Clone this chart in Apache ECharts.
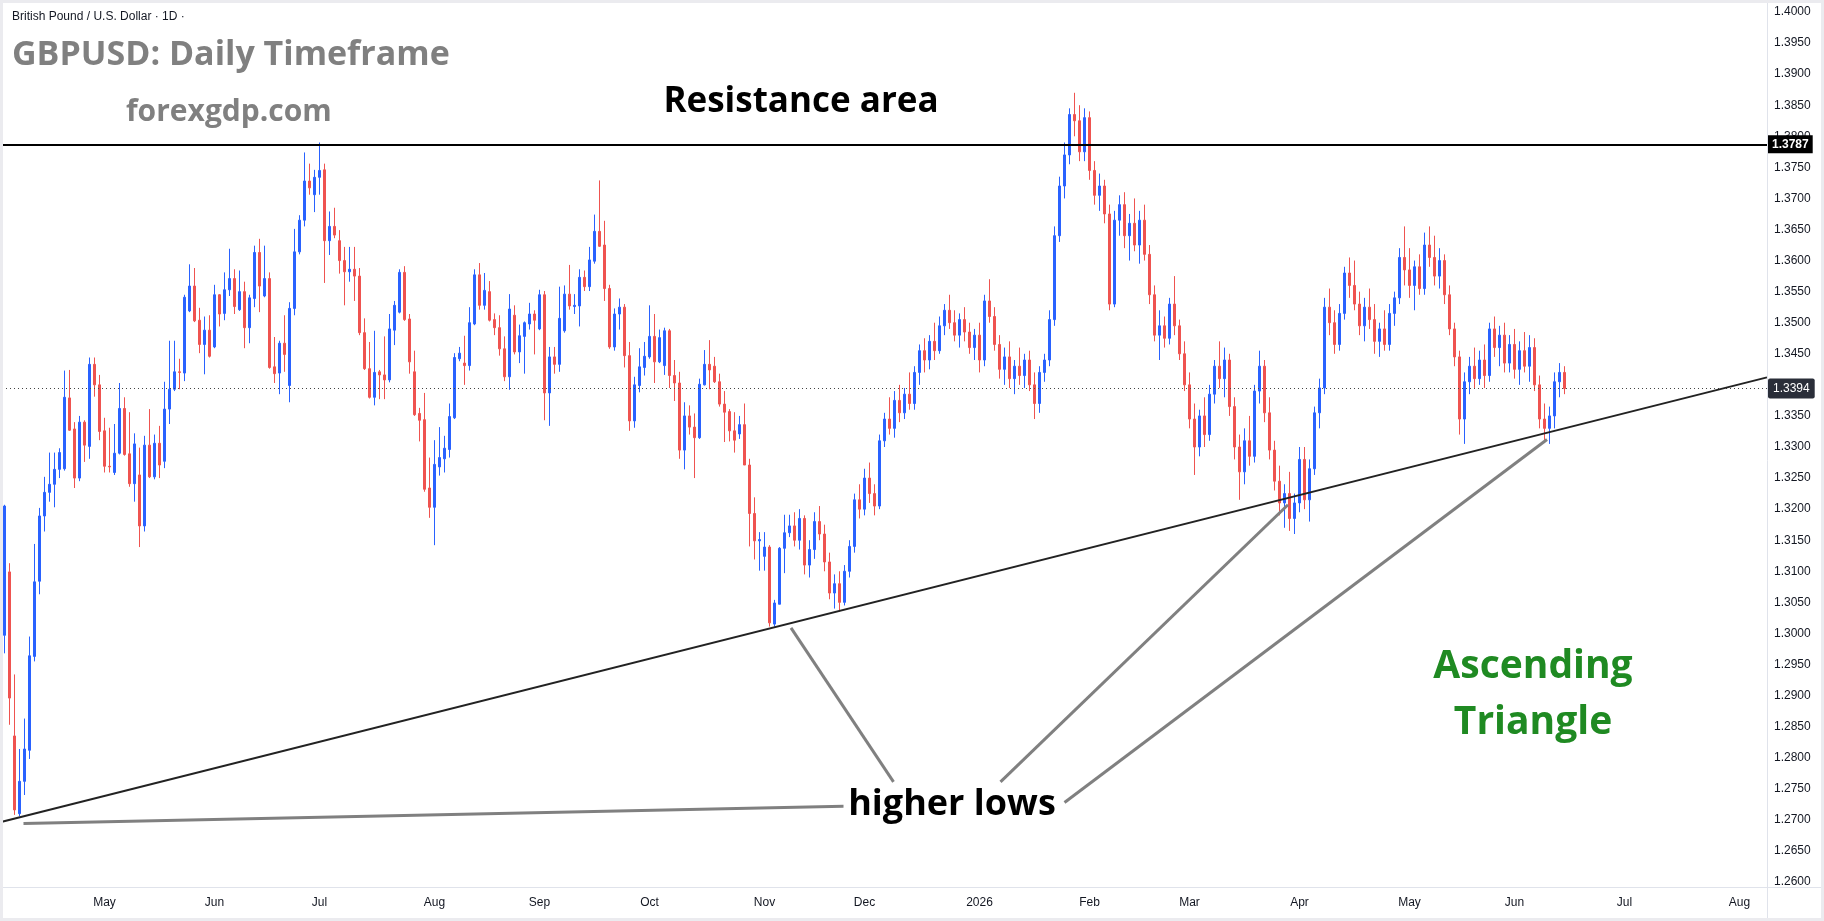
<!DOCTYPE html>
<html>
<head>
<meta charset="utf-8">
<title>GBPUSD Daily</title>
<script src="https://cdn.jsdelivr.net/npm/echarts@6/dist/echarts.min.js"></script>
<style>
  html, body { margin: 0; padding: 0; background: #ffffff; }
  #chart { width: 1824px; height: 921px; }
</style>
</head>
<body>
<div id="chart"></div>
<script>
// daily bars, one row per session: [open, high, low, close]
var apr25 = [
  [1.2997, 1.3207, 1.2968, 1.3205], [1.3099, 1.3113, 1.2853, 1.2896], [1.2835, 1.2934, 1.2708, 1.2716],
  [1.2710, 1.2814, 1.2706, 1.2762], [1.2762, 1.2863, 1.2740, 1.2814], [1.2812, 1.2995, 1.2798, 1.2964],
  [1.2963, 1.3144, 1.2955, 1.3083], [1.3084, 1.3202, 1.3063, 1.3189], [1.3189, 1.3252, 1.3164, 1.3227],
  [1.3227, 1.3291, 1.3212, 1.3240], [1.3240, 1.3291, 1.3203, 1.3264], [1.3264, 1.3298, 1.3250, 1.3291],
  [1.3265, 1.3423, 1.3262, 1.3380], [1.3379, 1.3424, 1.3326, 1.3327], [1.3329, 1.3340, 1.3234, 1.3250],
  [1.3250, 1.3350, 1.3245, 1.3340], [1.3340, 1.3343, 1.3276, 1.3303], [1.3301, 1.3444, 1.3281, 1.3433],
  [1.3433, 1.3444, 1.3381, 1.3400], [1.3400, 1.3416, 1.3311, 1.3325]
];
var may25 = [
  [1.3326, 1.3347, 1.3259, 1.3269], [1.3269, 1.3331, 1.3259, 1.3268], [1.3259, 1.3337, 1.3255, 1.3290],
  [1.3290, 1.3403, 1.3288, 1.3362], [1.3362, 1.3380, 1.3286, 1.3288], [1.3289, 1.3356, 1.3236, 1.3241],
  [1.3241, 1.3322, 1.3212, 1.3305], [1.3255, 1.3299, 1.3139, 1.3173], [1.3173, 1.3318, 1.3164, 1.3303],
  [1.3303, 1.3361, 1.3250, 1.3252], [1.3252, 1.3320, 1.3248, 1.3306], [1.3306, 1.3334, 1.3250, 1.3271],
  [1.3277, 1.3405, 1.3266, 1.3361], [1.3361, 1.3471, 1.3337, 1.3393], [1.3393, 1.3471, 1.3390, 1.3421],
  [1.3421, 1.3442, 1.3393, 1.3420], [1.3419, 1.3545, 1.3406, 1.3541], [1.3519, 1.3594, 1.3517, 1.3559],
  [1.3559, 1.3588, 1.3501, 1.3503], [1.3504, 1.3524, 1.3451, 1.3465], [1.3465, 1.3510, 1.3417, 1.3488],
  [1.3488, 1.3512, 1.3444, 1.3446]
];
var jun25 = [
  [1.3461, 1.3561, 1.3459, 1.3545], [1.3545, 1.3546, 1.3494, 1.3514], [1.3515, 1.3581, 1.3504, 1.3553],
  [1.3553, 1.3619, 1.3543, 1.3571], [1.3571, 1.3586, 1.3514, 1.3526], [1.3521, 1.3584, 1.3519, 1.3550],
  [1.3550, 1.3566, 1.3459, 1.3492], [1.3492, 1.3545, 1.3467, 1.3540], [1.3539, 1.3624, 1.3525, 1.3613],
  [1.3613, 1.3635, 1.3517, 1.3559], [1.3543, 1.3624, 1.3541, 1.3571], [1.3571, 1.3581, 1.3426, 1.3428],
  [1.3429, 1.3477, 1.3403, 1.3418], [1.3419, 1.3471, 1.3385, 1.3467], [1.3467, 1.3512, 1.3421, 1.3449],
  [1.3399, 1.3533, 1.3372, 1.3523], [1.3523, 1.3651, 1.3512, 1.3614], [1.3614, 1.3673, 1.3610, 1.3665],
  [1.3665, 1.3774, 1.3655, 1.3728], [1.3728, 1.3756, 1.3706, 1.3717], [1.3706, 1.3746, 1.3678, 1.3734]
];
var jul25 = [
  [1.3734, 1.3790, 1.3706, 1.3745], [1.3746, 1.3756, 1.3564, 1.3632], [1.3632, 1.3679, 1.3609, 1.3655],
  [1.3655, 1.3685, 1.3636, 1.3641], [1.3632, 1.3649, 1.3579, 1.3600], [1.3600, 1.3622, 1.3528, 1.3582],
  [1.3582, 1.3622, 1.3566, 1.3586], [1.3586, 1.3622, 1.3535, 1.3575], [1.3575, 1.3588, 1.3480, 1.3484],
  [1.3484, 1.3507, 1.3424, 1.3426], [1.3426, 1.3469, 1.3378, 1.3380], [1.3380, 1.3487, 1.3367, 1.3420],
  [1.3421, 1.3424, 1.3377, 1.3416], [1.3416, 1.3478, 1.3377, 1.3408], [1.3408, 1.3514, 1.3404, 1.3490],
  [1.3488, 1.3535, 1.3464, 1.3528], [1.3517, 1.3586, 1.3515, 1.3581], [1.3581, 1.3591, 1.3503, 1.3505],
  [1.3506, 1.3514, 1.3418, 1.3437], [1.3421, 1.3455, 1.3350, 1.3352], [1.3354, 1.3363, 1.3309, 1.3343],
  [1.3344, 1.3387, 1.3228, 1.3232], [1.3234, 1.3283, 1.3186, 1.3203]
];
var aug25 = [
  [1.3203, 1.3311, 1.3142, 1.3272], [1.3268, 1.3332, 1.3254, 1.3283], [1.3281, 1.3318, 1.3259, 1.3298],
  [1.3296, 1.3370, 1.3283, 1.3349], [1.3347, 1.3451, 1.3345, 1.3444], [1.3442, 1.3461, 1.3438, 1.3451],
  [1.3435, 1.3479, 1.3400, 1.3431], [1.3431, 1.3525, 1.3423, 1.3500], [1.3498, 1.3586, 1.3496, 1.3577],
  [1.3577, 1.3596, 1.3521, 1.3528], [1.3528, 1.3580, 1.3521, 1.3552], [1.3550, 1.3567, 1.3502, 1.3504],
  [1.3505, 1.3515, 1.3480, 1.3492], [1.3492, 1.3512, 1.3447, 1.3458], [1.3458, 1.3478, 1.3406, 1.3413],
  [1.3413, 1.3546, 1.3392, 1.3522], [1.3512, 1.3528, 1.3449, 1.3453], [1.3453, 1.3497, 1.3435, 1.3479],
  [1.3478, 1.3502, 1.3418, 1.3500], [1.3498, 1.3532, 1.3489, 1.3514], [1.3514, 1.3520, 1.3449, 1.3504]
];
var sep25 = [
  [1.3490, 1.3553, 1.3488, 1.3545], [1.3545, 1.3551, 1.3343, 1.3387], [1.3387, 1.3461, 1.3334, 1.3445],
  [1.3445, 1.3461, 1.3418, 1.3433], [1.3433, 1.3558, 1.3421, 1.3507], [1.3487, 1.3560, 1.3484, 1.3546],
  [1.3546, 1.3593, 1.3521, 1.3527], [1.3526, 1.3546, 1.3514, 1.3528], [1.3527, 1.3586, 1.3494, 1.3573],
  [1.3573, 1.3584, 1.3551, 1.3558], [1.3558, 1.3622, 1.3551, 1.3601], [1.3599, 1.3674, 1.3595, 1.3647],
  [1.3647, 1.3729, 1.3622, 1.3623], [1.3625, 1.3664, 1.3535, 1.3555], [1.3555, 1.3561, 1.3458, 1.3461],
  [1.3461, 1.3523, 1.3455, 1.3514], [1.3514, 1.3539, 1.3489, 1.3525], [1.3525, 1.3530, 1.3428, 1.3447],
  [1.3447, 1.3469, 1.3326, 1.3342], [1.3342, 1.3413, 1.3331, 1.3400], [1.3399, 1.3459, 1.3388, 1.3429],
  [1.3428, 1.3469, 1.3415, 1.3446]
];
var oct25 = [
  [1.3445, 1.3528, 1.3442, 1.3478], [1.3478, 1.3514, 1.3403, 1.3437], [1.3437, 1.3489, 1.3435, 1.3476],
  [1.3431, 1.3492, 1.3416, 1.3487], [1.3487, 1.3490, 1.3395, 1.3415], [1.3415, 1.3440, 1.3374, 1.3403],
  [1.3403, 1.3421, 1.3281, 1.3295], [1.3295, 1.3372, 1.3264, 1.3350], [1.3350, 1.3367, 1.3320, 1.3332],
  [1.3332, 1.3354, 1.3250, 1.3315], [1.3315, 1.3410, 1.3313, 1.3401], [1.3400, 1.3456, 1.3399, 1.3433],
  [1.3433, 1.3472, 1.3393, 1.3424], [1.3430, 1.3445, 1.3403, 1.3405], [1.3405, 1.3418, 1.3365, 1.3369],
  [1.3369, 1.3390, 1.3308, 1.3356], [1.3357, 1.3361, 1.3309, 1.3326], [1.3326, 1.3356, 1.3291, 1.3311],
  [1.3321, 1.3350, 1.3313, 1.3336], [1.3336, 1.3370, 1.3271, 1.3271], [1.3271, 1.3281, 1.3140, 1.3193],
  [1.3193, 1.3219, 1.3119, 1.3149], [1.3149, 1.3163, 1.3101, 1.3151]
];
var nov25 = [
  [1.3124, 1.3163, 1.3101, 1.3139], [1.3139, 1.3142, 1.3011, 1.3017], [1.3015, 1.3054, 1.3011, 1.3049],
  [1.3047, 1.3139, 1.3047, 1.3137], [1.3137, 1.3191, 1.3097, 1.3162], [1.3162, 1.3191, 1.3155, 1.3173],
  [1.3173, 1.3195, 1.3140, 1.3150], [1.3150, 1.3200, 1.3135, 1.3185], [1.3185, 1.3190, 1.3095, 1.3110],
  [1.3110, 1.3150, 1.3090, 1.3135], [1.3135, 1.3195, 1.3120, 1.3180], [1.3180, 1.3205, 1.3150, 1.3160],
  [1.3160, 1.3175, 1.3100, 1.3115], [1.3115, 1.3130, 1.3055, 1.3065], [1.3065, 1.3095, 1.3040, 1.3080],
  [1.3080, 1.3100, 1.3035, 1.3050], [1.3050, 1.3110, 1.3045, 1.3100], [1.3100, 1.3150, 1.3090, 1.3140],
  [1.3140, 1.3225, 1.3130, 1.3215], [1.3215, 1.3240, 1.3185, 1.3200]
];
var dec25 = [
  [1.3200, 1.3265, 1.3190, 1.3250], [1.3250, 1.3275, 1.3210, 1.3225], [1.3225, 1.3240, 1.3190, 1.3205],
  [1.3205, 1.3320, 1.3200, 1.3310], [1.3310, 1.3355, 1.3300, 1.3345], [1.3345, 1.3380, 1.3320, 1.3330],
  [1.3330, 1.3390, 1.3315, 1.3375], [1.3375, 1.3400, 1.3340, 1.3355], [1.3355, 1.3395, 1.3345, 1.3385],
  [1.3385, 1.3420, 1.3360, 1.3370], [1.3370, 1.3430, 1.3360, 1.3420], [1.3420, 1.3465, 1.3400, 1.3455],
  [1.3455, 1.3475, 1.3420, 1.3440], [1.3440, 1.3480, 1.3425, 1.3470], [1.3470, 1.3500, 1.3440, 1.3455],
  [1.3455, 1.3510, 1.3450, 1.3495], [1.3495, 1.3530, 1.3480, 1.3520], [1.3520, 1.3545, 1.3490, 1.3500],
  [1.3500, 1.3520, 1.3470, 1.3480], [1.3480, 1.3515, 1.3460, 1.3505], [1.3505, 1.3525, 1.3470, 1.3485],
  [1.3485, 1.3500, 1.3450, 1.3460], [1.3460, 1.3490, 1.3440, 1.3480]
];
var jan26 = [
  [1.3480, 1.3500, 1.3420, 1.3440], [1.3440, 1.3545, 1.3430, 1.3535], [1.3535, 1.3570, 1.3500, 1.3510],
  [1.3510, 1.3525, 1.3455, 1.3465], [1.3465, 1.3480, 1.3410, 1.3425], [1.3425, 1.3460, 1.3400, 1.3445],
  [1.3445, 1.3470, 1.3395, 1.3410], [1.3410, 1.3440, 1.3385, 1.3430], [1.3430, 1.3460, 1.3400, 1.3415],
  [1.3415, 1.3450, 1.3395, 1.3440], [1.3440, 1.3455, 1.3390, 1.3400], [1.3400, 1.3420, 1.3345, 1.3370],
  [1.3370, 1.3430, 1.3355, 1.3420], [1.3420, 1.3450, 1.3405, 1.3440], [1.3440, 1.3520, 1.3430, 1.3505],
  [1.3505, 1.3655, 1.3495, 1.3640], [1.3640, 1.3735, 1.3630, 1.3720], [1.3720, 1.3790, 1.3700, 1.3770],
  [1.3770, 1.3845, 1.3755, 1.3835], [1.3835, 1.3870, 1.3800, 1.3825], [1.3825, 1.3850, 1.3760, 1.3775],
  [1.3775, 1.3845, 1.3760, 1.3830]
];
var feb26 = [
  [1.3830, 1.3840, 1.3730, 1.3745], [1.3745, 1.3760, 1.3690, 1.3705], [1.3705, 1.3740, 1.3680, 1.3720],
  [1.3720, 1.3730, 1.3660, 1.3675], [1.3675, 1.3690, 1.3520, 1.3530], [1.3530, 1.3680, 1.3525, 1.3665],
  [1.3665, 1.3705, 1.3640, 1.3690], [1.3690, 1.3710, 1.3620, 1.3640], [1.3640, 1.3675, 1.3600, 1.3660],
  [1.3660, 1.3700, 1.3615, 1.3625], [1.3625, 1.3680, 1.3595, 1.3665], [1.3665, 1.3690, 1.3600, 1.3610],
  [1.3610, 1.3625, 1.3530, 1.3545], [1.3545, 1.3560, 1.3470, 1.3480], [1.3480, 1.3520, 1.3440, 1.3495],
  [1.3495, 1.3510, 1.3460, 1.3475], [1.3475, 1.3540, 1.3465, 1.3530], [1.3530, 1.3575, 1.3480, 1.3495],
  [1.3495, 1.3505, 1.3440, 1.3450], [1.3450, 1.3470, 1.3390, 1.3400]
];
var mar26 = [
  [1.3400, 1.3420, 1.3330, 1.3345], [1.3345, 1.3370, 1.3255, 1.3300], [1.3300, 1.3360, 1.3285, 1.3350],
  [1.3350, 1.3380, 1.3300, 1.3320], [1.3320, 1.3400, 1.3310, 1.3385], [1.3385, 1.3440, 1.3370, 1.3430],
  [1.3430, 1.3470, 1.3395, 1.3410], [1.3410, 1.3460, 1.3380, 1.3440], [1.3440, 1.3450, 1.3350, 1.3365],
  [1.3365, 1.3380, 1.3280, 1.3300], [1.3300, 1.3320, 1.3215, 1.3260], [1.3260, 1.3330, 1.3240, 1.3310],
  [1.3310, 1.3350, 1.3270, 1.3285], [1.3285, 1.3400, 1.3275, 1.3390], [1.3390, 1.3455, 1.3370, 1.3430],
  [1.3430, 1.3440, 1.3340, 1.3355], [1.3355, 1.3380, 1.3280, 1.3295], [1.3295, 1.3310, 1.3230, 1.3245],
  [1.3245, 1.3270, 1.3190, 1.3210], [1.3210, 1.3240, 1.3170, 1.3225], [1.3225, 1.3260, 1.3165, 1.3185],
  [1.3185, 1.3225, 1.3160, 1.3210]
];
var apr26 = [
  [1.3210, 1.3300, 1.3195, 1.3280], [1.3280, 1.3300, 1.3200, 1.3215], [1.3215, 1.3280, 1.3180, 1.3265],
  [1.3265, 1.3365, 1.3255, 1.3355], [1.3355, 1.3410, 1.3330, 1.3395], [1.3395, 1.3540, 1.3385, 1.3525],
  [1.3525, 1.3555, 1.3480, 1.3500], [1.3500, 1.3520, 1.3450, 1.3465], [1.3465, 1.3530, 1.3455, 1.3515],
  [1.3515, 1.3590, 1.3505, 1.3580], [1.3580, 1.3605, 1.3540, 1.3560], [1.3560, 1.3600, 1.3520, 1.3530],
  [1.3530, 1.3550, 1.3480, 1.3495], [1.3495, 1.3540, 1.3470, 1.3525], [1.3525, 1.3555, 1.3490, 1.3505],
  [1.3505, 1.3530, 1.3450, 1.3470], [1.3470, 1.3500, 1.3445, 1.3490], [1.3490, 1.3520, 1.3455, 1.3465],
  [1.3465, 1.3530, 1.3455, 1.3515], [1.3515, 1.3550, 1.3495, 1.3540], [1.3540, 1.3620, 1.3530, 1.3605],
  [1.3605, 1.3655, 1.3560, 1.3585]
];
var may26 = [
  [1.3585, 1.3620, 1.3540, 1.3560], [1.3560, 1.3600, 1.3520, 1.3590], [1.3590, 1.3610, 1.3545, 1.3555],
  [1.3555, 1.3645, 1.3545, 1.3625], [1.3625, 1.3655, 1.3590, 1.3605], [1.3605, 1.3640, 1.3560, 1.3575],
  [1.3575, 1.3620, 1.3555, 1.3600], [1.3600, 1.3610, 1.3530, 1.3545], [1.3545, 1.3560, 1.3480, 1.3490],
  [1.3490, 1.3500, 1.3430, 1.3445], [1.3445, 1.3455, 1.3320, 1.3345], [1.3345, 1.3420, 1.3305, 1.3405],
  [1.3405, 1.3445, 1.3385, 1.3430], [1.3430, 1.3460, 1.3395, 1.3410], [1.3410, 1.3455, 1.3400, 1.3440],
  [1.3440, 1.3465, 1.3395, 1.3415], [1.3415, 1.3500, 1.3405, 1.3490], [1.3490, 1.3510, 1.3445, 1.3460],
  [1.3460, 1.3495, 1.3430, 1.3480], [1.3480, 1.3500, 1.3420, 1.3435], [1.3435, 1.3480, 1.3420, 1.3465]
];
var jun26 = [
  [1.3465, 1.3490, 1.3410, 1.3425], [1.3425, 1.3470, 1.3400, 1.3455], [1.3455, 1.3485, 1.3420, 1.3430],
  [1.3430, 1.3480, 1.3405, 1.3460], [1.3460, 1.3475, 1.3390, 1.3400], [1.3400, 1.3415, 1.3330, 1.3345],
  [1.3345, 1.3370, 1.3310, 1.3330], [1.3330, 1.3365, 1.3305, 1.3350], [1.3350, 1.3420, 1.3330, 1.3405],
  [1.3405, 1.3435, 1.3380, 1.3420], [1.3420, 1.3430, 1.3385, 1.3394]
];

// axis: every weekday from the first bar, empty days continue to the right edge
var firstSession = '2025-04-03';
var sessionCount = 353;
var monthNames = ['Jan', 'Feb', 'Mar', 'Apr', 'May', 'Jun', 'Jul', 'Aug', 'Sep', 'Oct', 'Nov', 'Dec'];
var priceTicks = { min: 1.26, max: 1.40, step: 0.005 };

// drawn levels and lines, as [bar index, price]
var resistanceLevel = 1.3787;
var lastPrice = 1.3394;
var trendline = [[-0.5, 1.2697], [352.5, 1.3412]];
var pointerLines = [
  [[3.8, 1.2694], [167.8, 1.2722]],
  [[157.3, 1.3009], [177.8, 1.2761]],
  [[199.2, 1.2761], [256.7, 1.3207]],
  [[212.0, 1.2728], [308.5, 1.3312]]
];

var bars = [].concat(apr25, may25, jun25, jul25, aug25, sep25, oct25, nov25, dec25,
  jan26, feb26, mar26, apr26, may26, jun26);

var dates = [];
var d = new Date(firstSession + 'T00:00:00Z');
while (dates.length < sessionCount) {
  var wd = d.getUTCDay();
  if (wd !== 0 && wd !== 6) dates.push(d.toISOString().slice(0, 10));
  d.setUTCDate(d.getUTCDate() + 1);
}

// echarts wants [open, close, low, high]
var candleData = bars.map(function (b) { return [b[0], b[3], b[2], b[1]]; });

var boldFont = '"Open Sans", "Noto Sans", sans-serif';
var axisFont = '"Liberation Sans", Arial, sans-serif';

var chart = echarts.init(document.getElementById('chart'));

var pointerSeries = pointerLines.map(function (seg) {
  return {
    type: 'line',
    xAxisIndex: 1,
    data: seg,
    symbol: 'none',
    silent: true,
    z: 4,
    lineStyle: { color: '#808080', width: 3 }
  };
});

var option = {
  backgroundColor: '#ffffff',
  animation: false,
  grid: { left: 2, right: 57, top: 12, bottom: 39 },
  xAxis: [
    {
      type: 'category',
      data: dates,
      boundaryGap: true,
      axisLine: { show: false },
      axisTick: { show: false },
      splitLine: { show: false },
      axisLabel: {
        margin: 15,
        color: '#131722',
        fontSize: 12,
        fontFamily: axisFont,
        interval: function (index, value) {
          if (index === 0) return false;
          return value.slice(0, 7) !== dates[index - 1].slice(0, 7);
        },
        formatter: function (value) {
          var m = parseInt(value.slice(5, 7), 10);
          return m === 1 ? value.slice(0, 4) : monthNames[m - 1];
        }
      }
    },
    {
      type: 'value',
      show: false,
      min: -0.5,
      max: sessionCount - 0.5
    }
  ],
  yAxis: {
    type: 'value',
    position: 'right',
    min: priceTicks.min,
    max: priceTicks.max,
    interval: priceTicks.step,
    axisLine: { show: false },
    axisTick: { show: false },
    splitLine: { show: false },
    axisLabel: {
      margin: 7,
      color: '#131722',
      fontSize: 12,
      fontFamily: axisFont,
      showMinLabel: true,
      showMaxLabel: true,
      formatter: function (v) {
        // the last-price tag sits on top of 1.3400
        if (Math.abs(v - 1.34) < 1e-7) return '';
        return v.toFixed(4);
      }
    }
  },
  series: [
    {
      type: 'candlestick',
      data: candleData,
      barWidth: 3,
      z: 2,
      itemStyle: {
        color: '#2962ff',
        color0: '#ef5350',
        borderColor: '#2962ff',
        borderColor0: '#ef5350',
        borderWidth: 1
      },
      markLine: {
        silent: true,
        symbol: 'none',
        animation: false,
        precision: 4,
        data: [
          {
            yAxis: resistanceLevel,
            lineStyle: { color: '#000000', width: 2, type: 'solid' },
            label: {
              show: true,
              position: 'end',
              distance: 1,
              formatter: resistanceLevel.toFixed(4),
              color: '#ffffff',
              backgroundColor: '#000000',
              fontFamily: axisFont,
              fontSize: 12,
              fontWeight: 'bold',
              padding: [3, 4, 3, 4]
            }
          },
          {
            yAxis: lastPrice,
            lineStyle: { color: '#444444', width: 1, type: [1, 3] },
            label: {
              show: true,
              position: 'end',
              distance: 1,
              formatter: lastPrice.toFixed(4),
              color: '#ffffff',
              backgroundColor: '#2a2e39',
              borderRadius: 2,
              fontFamily: axisFont,
              fontSize: 12,
              padding: [4, 5, 4, 5]
            }
          }
        ]
      }
    },
    {
      type: 'line',
      xAxisIndex: 1,
      data: trendline,
      symbol: 'none',
      silent: true,
      z: 5,
      lineStyle: { color: '#222222', width: 2 }
    }
  ].concat(pointerSeries),
  graphic: [
    { type: 'line', silent: true, z: 10, shape: { x1: 0, y1: 887.5, x2: 1824, y2: 887.5 }, style: { stroke: '#e0e3eb', lineWidth: 1 } },
    { type: 'line', silent: true, z: 10, shape: { x1: 1767.5, y1: 0, x2: 1767.5, y2: 921 }, style: { stroke: '#e0e3eb', lineWidth: 1 } },
    { type: 'rect', silent: true, z: 11, shape: { x: 0, y: 0, width: 1824, height: 921 }, style: { fill: 'none', stroke: '#ebebef', lineWidth: 6 } },
    {
      type: 'text', silent: true, z: 12, x: 12, y: 11,
      style: { text: 'British Pound / U.S. Dollar \u00b7 1D \u00b7', font: '12px ' + axisFont, fill: '#131722' }
    },
    {
      type: 'text', silent: true, z: 12, x: 12, y: 55,
      style: { text: 'GBPUSD: Daily Timeframe', font: 'bold 34px ' + boldFont, fill: '#808080', verticalAlign: 'middle' }
    },
    {
      type: 'text', silent: true, z: 12, x: 126, y: 112,
      style: { text: 'forexgdp.com', font: 'bold 30px ' + boldFont, fill: '#808080', verticalAlign: 'middle' }
    },
    {
      type: 'text', silent: true, z: 12, x: 801, y: 102,
      style: { text: 'Resistance area', font: 'bold 35px ' + boldFont, fill: '#000000', align: 'center', verticalAlign: 'middle' }
    },
    {
      type: 'text', silent: true, z: 12, x: 952, y: 805,
      style: { text: 'higher lows', font: 'bold 36px ' + boldFont, fill: '#000000', align: 'center', verticalAlign: 'middle' }
    },
    {
      type: 'text', silent: true, z: 12, x: 1533, y: 667,
      style: { text: 'Ascending', font: 'bold 39px ' + boldFont, fill: '#1f8a22', align: 'center', verticalAlign: 'middle' }
    },
    {
      type: 'text', silent: true, z: 12, x: 1533, y: 723,
      style: { text: 'Triangle', font: 'bold 39px ' + boldFont, fill: '#1f8a22', align: 'center', verticalAlign: 'middle' }
    }
  ]
};

chart.setOption(option);
</script>
</body>
</html>
